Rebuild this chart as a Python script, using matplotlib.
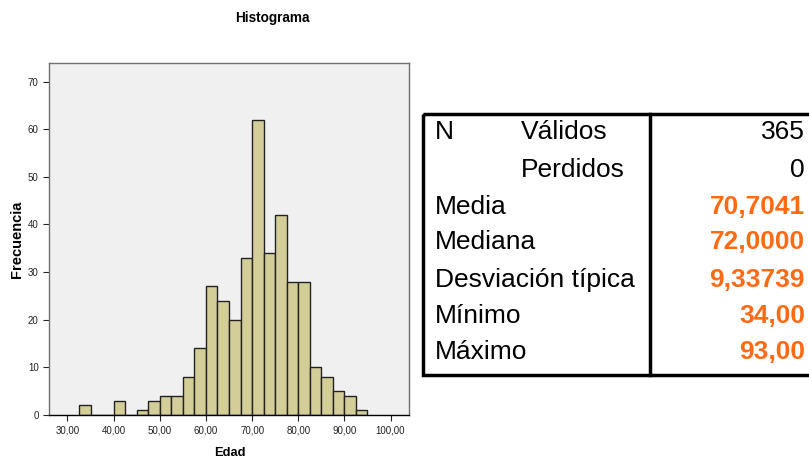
import matplotlib.pyplot as plt
from matplotlib.patches import Rectangle
import numpy as np

plt.rcParams['font.family'] = ['Liberation Sans', 'DejaVu Sans']

# histogram data: bin edges every 2.5 years starting at 32.5
bin_left = np.arange(32.5, 95.0, 2.5)
counts = [2, 0, 0, 3, 0, 1, 3, 4, 4, 8, 14, 27, 24, 20, 33, 62, 34, 42, 28, 28, 10, 8, 5, 4, 1]
bin_width = 2.5

xticks = [30, 40, 50, 60, 70, 80, 90, 100]
yticks = [0, 10, 20, 30, 40, 50, 60, 70]

# summary table
row_labels = ['N', '', 'Media', 'Mediana', 'Desviación típica', 'Mínimo', 'Máximo']
row_sub = ['Válidos', 'Perdidos', '', '', '', '', '']
row_values = ['365', '0', '70,7041', '72,0000', '9,33739', '34,00', '93,00']
row_orange = [False, False, True, True, True, True, True]

W, H = 809, 459
fig = plt.figure(figsize=(W / 100, H / 100), dpi=100)

# histogram axes (pixel positions from the reference)
ax = fig.add_axes([49 / W, 1 - 415 / H, (409 - 49) / W, (415 - 63) / H])
ax.set_facecolor('#f0f0f0')
ax.bar(bin_left, counts, width=bin_width, align='edge', color='#d3cd98',
       edgecolor='#222222', linewidth=1.0)
ax.set_xlim(26, 104)
ax.set_ylim(0, 73.9)
ax.set_xticks(xticks)
ax.set_xticklabels(['%d,00' % v for v in xticks])
ax.set_yticks(yticks)
ax.tick_params(axis='both', labelsize=7, colors='#222222', length=4, width=0.8)
for s in ['top', 'right', 'left']:
    ax.spines[s].set_color('#707070')
    ax.spines[s].set_linewidth(1.0)
ax.spines['bottom'].set_color('#000000')
ax.spines['bottom'].set_linewidth(1.0)

fig.text(272 / W, 1 - 18 / H, 'Histograma', ha='center', va='center',
         fontsize=9.8, fontweight='bold')
fig.text(17 / W, 1 - 239 / H, 'Frecuencia', ha='center', va='center',
         rotation=90, fontsize=10.5, fontweight='bold')
fig.text(230 / W, 1 - 447 / H, 'Edad', ha='center', va='top',
         fontsize=9.3, fontweight='bold')

# table drawn in a pixel-coordinate overlay
tab = fig.add_axes([0, 0, 1, 1])
tab.set_xlim(0, W)
tab.set_ylim(H, 0)
tab.axis('off')
tab.add_patch(Rectangle((423, 114), 400, 261, fill=False, edgecolor='black',
                        linewidth=2.5, clip_on=False))
tab.plot([650, 650], [114, 375], color='black', linewidth=2.5)

row_y = [132, 170, 207, 242, 280, 316, 352]
for y, lab, sub, val, org in zip(row_y, row_labels, row_sub, row_values, row_orange):
    if lab:
        tab.text(435, y, lab, ha='left', va='center', fontsize=19)
    if sub:
        tab.text(521, y, sub, ha='left', va='center', fontsize=19)
    tab.text(805, y, val, ha='right', va='center', fontsize=19,
             color='#ff6a13' if org else 'black',
             fontweight='bold' if org else 'normal')

fig.savefig('out.png', dpi=100)
